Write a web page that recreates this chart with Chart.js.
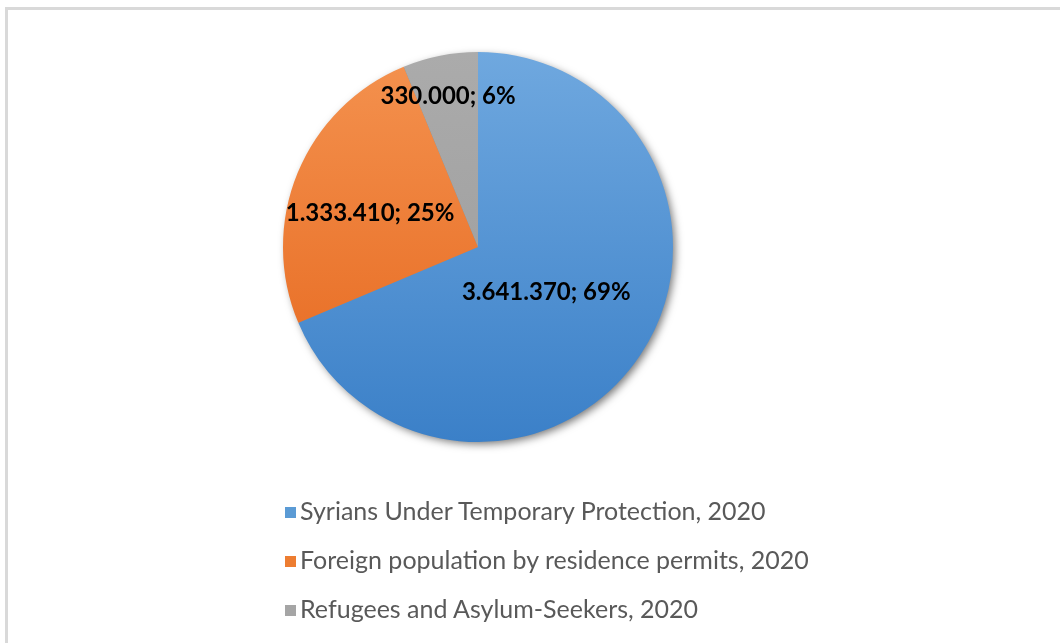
<!DOCTYPE html>
<html>
<head>
<meta charset="utf-8">
<script src="https://cdn.jsdelivr.net/npm/chart.js@4/dist/chart.umd.min.js"></script>
<style>
  html, body { margin: 0; padding: 0; background: #fff; overflow: hidden; }
  #frame {
    position: absolute; left: 5px; top: 7px; width: 2000px; height: 2000px;
    border-top: 3px solid #d9d9d9; border-left: 3px solid #d9d9d9;
  }
  #wrap { position: absolute; left: 0; top: 0; width: 1060px; height: 643px; }
  #legend { position: absolute; left: 285px; top: 493px; margin: 0; padding: 0; list-style: none; }
  #legend li {
    height: 49px; line-height: 34px; font-family: Lato, sans-serif; font-size: 25px;
    color: #595959; white-space: nowrap;
  }
  #legend span.box { display: inline-block; width: 11px; height: 11px; margin-right: 4px; vertical-align: 2px; }
</style>
</head>
<body>
<div id="frame"></div>
<div id="wrap"><canvas id="chart" width="1060" height="643"></canvas></div>
<ul id="legend"></ul>
<script>
var categories = [
  'Syrians Under Temporary Protection, 2020',
  'Foreign population by residence permits, 2020',
  'Refugees and Asylum-Seekers, 2020'
];
var people = [3641370, 1333410, 330000];

// gradient stops per slice (top, bottom)
var sliceTop = ['#6fa8df', '#f4924f', '#ababab'];
var sliceBottom = ['#3b80c8', '#e5651b', '#9a9a9a'];
var swatch = ['#5b9bd5', '#ed7d31', '#a5a5a5'];

function dotted(n) {
  return String(n).replace(/\B(?=(\d{3})+(?!\d))/g, '.');
}

function fillFor(ctx) {
  var area = ctx.chart.chartArea;
  if (!area) return swatch[ctx.dataIndex];
  var g = ctx.chart.ctx.createLinearGradient(0, area.top, 0, area.bottom);
  g.addColorStop(0, sliceTop[ctx.dataIndex]);
  g.addColorStop(1, sliceBottom[ctx.dataIndex]);
  return g;
}

// soft drop shadow behind the whole pie
var pieShadow = {
  id: 'pieShadow',
  beforeDatasetsDraw: function(chart) {
    var arc = chart.getDatasetMeta(0).data[0];
    if (!arc) return;
    var c = chart.ctx;
    c.save();
    c.shadowColor = 'rgba(0,0,0,0.55)';
    c.shadowBlur = 9;
    c.shadowOffsetX = 3;
    c.shadowOffsetY = 3;
    c.fillStyle = '#888';
    c.beginPath();
    c.arc(arc.x, arc.y, arc.outerRadius - 1, 0, Math.PI * 2);
    c.fill();
    c.restore();
  }
};

// value; percent labels inside the slices
var sliceLabels = {
  id: 'sliceLabels',
  afterDatasetsDraw: function(chart, args, opts) {
    var meta = chart.getDatasetMeta(0);
    var data = chart.data.datasets[0].data;
    var total = data.reduce(function(a, b) { return a + b; }, 0);
    var c = chart.ctx;
    c.save();
    c.font = 'bold 24px Lato, sans-serif';
    c.fillStyle = '#000';
    c.textAlign = 'center';
    c.textBaseline = 'middle';
    meta.data.forEach(function(arc, i) {
      var mid = (arc.startAngle + arc.endAngle) / 2 + opts.turn[i] * Math.PI / 180;
      var r = arc.outerRadius * opts.radial[i];
      var pct = Math.round(data[i] / total * 100);
      c.fillText(dotted(data[i]) + '; ' + pct + '%', arc.x + Math.cos(mid) * r, arc.y + Math.sin(mid) * r);
    });
    c.restore();
  }
};

var chart = new Chart('chart', {
  type: 'pie',
  data: {
    labels: categories,
    datasets: [{
      data: people,
      backgroundColor: fillFor,
      borderWidth: 0
    }]
  },
  options: {
    responsive: false,
    animation: false,
    layout: { padding: { top: 52, bottom: 201, left: 283, right: 387 } },
    plugins: {
      legend: { display: false },
      tooltip: { enabled: false },
      sliceLabels: { radial: [0.42, 0.58, 0.79], turn: [0, -5, 0] }
    }
  },
  plugins: [pieShadow, sliceLabels]
});

var legend = document.getElementById('legend');
categories.forEach(function(name, i) {
  var li = document.createElement('li');
  var box = document.createElement('span');
  box.className = 'box';
  box.style.background = swatch[i];
  li.appendChild(box);
  li.appendChild(document.createTextNode(name));
  legend.appendChild(li);
});
</script>
</body>
</html>
